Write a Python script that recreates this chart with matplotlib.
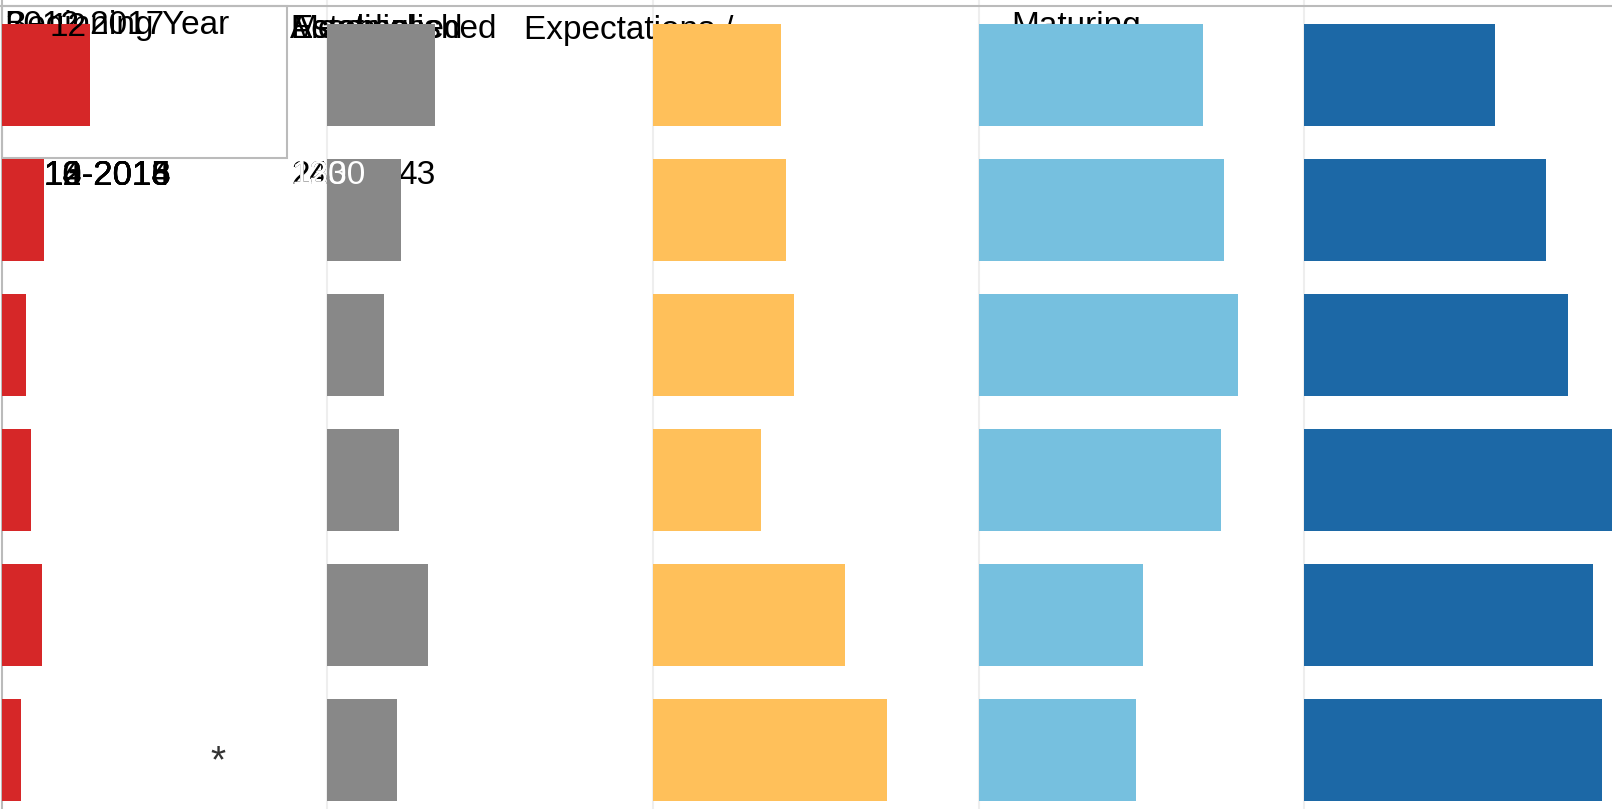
import numpy as np
import matplotlib
matplotlib.use("Agg")
import matplotlib.pyplot as plt
from matplotlib.patches import Rectangle
from matplotlib.lines import Line2D

plt.rcParams['font.family'] = ['Liberation Sans', 'DejaVu Sans']

W, H = 1612, 809

# share of teachers per rating level, one value per cohort row (percent)
rows = ["2012-2017", "2013-2018", "2014-2019", "2015-2020", "2016-2021", "2017-2022"]
beginning = [12, 5.7, 3.2, 3.9, 5.4, 2.6]
emerging = [14.6, 10.0, 7.7, 9.8, 13.7, 9.5]
expectations = [17.4, 18.0, 19.1, 14.6, 26.1, 31.7]
maturing = [30.4, 33.2, 35.1, 32.9, 22.2, 21.3]
accomplished = [25.9, 32.9, 35.8, 43, 39.2, 40.4]

series = [beginning, emerging, expectations, maturing, accomplished]
colors = ["#d62728", "#888888", "#ffc05a", "#76c0df", "#1c68a6"]

# stacked labels that ended up on top of each other
head_left = ["Beginning Year", "2012-2017"]
head_mid = ["Accomplished", "Established", "Meeting"]
row_labels = ["10-2013", "12-2014", "13-2015", "14-2016", "16-2018"]
counts_black = ["1309", "2209", "1429"]
counts_white = ["1330", "120"]


def fx(x):
    return x / W


def fy(y):
    return 1 - y / H


fig = plt.figure(figsize=(W / 100, H / 100), dpi=100)

px_per_pct = 7.37
lefts = [2, 327, 653, 979, 1304]
rights = [327, 653, 979, 1304, 1612]
row0, pitch, bar_h = 74.6, 135.0, 102.0

for k, (vals, col) in enumerate(zip(series, colors)):
    ax = fig.add_axes([fx(lefts[k]), 0, fx(rights[k] - lefts[k]), 1])
    ax.set_facecolor("none")
    ax.barh(np.arange(len(rows)), vals, height=bar_h / pitch, color=col, zorder=2)
    ax.set_xlim(0, (rights[k] - lefts[k]) / px_per_pct)
    ax.set_ylim((H - row0) / pitch, -row0 / pitch)
    for s in ax.spines.values():
        s.set_visible(False)
    ax.set_xticks([])
    ax.set_yticks([])

# frame lines
for x in lefts[1:]:
    fig.add_artist(Line2D([fx(x), fx(x)], [0, 1], color="#eeeeee", lw=1.5, zorder=-2))
fig.add_artist(Line2D([fx(2), fx(2)], [0, 1], color="#bbbbbb", lw=1.5, zorder=-2))
fig.add_artist(Line2D([0, 1], [fy(6), fy(6)], color="#bbbbbb", lw=1.5, zorder=-2))
fig.add_artist(Rectangle((fx(2), fy(158)), fx(285), fy(6) - fy(158), fill=False,
                         edgecolor="#bbbbbb", lw=1.5, zorder=-2))

fs = 24
for t in head_left:
    fig.text(fx(5), fy(34), t, fontsize=fs, color="black", zorder=-1)
fig.text(fx(49), fy(36), "12", fontsize=fs, color="black", zorder=5)
for t in head_mid:
    fig.text(fx(290), fy(38), t, fontsize=fs, color="black", zorder=-1)
fig.text(fx(524), fy(39), "Expectations /", fontsize=fs, color="black", zorder=-1)
fig.text(fx(1011), fy(35), "Maturing", fontsize=fs, color="black", zorder=-1)

for t in row_labels:
    fig.text(fx(43), fy(185), t, fontsize=fs + 1, color="black", zorder=-1)
for t in counts_black:
    fig.text(fx(291), fy(184), t, fontsize=fs, color="black", zorder=-1)
for t in counts_white:
    fig.text(fx(291), fy(184), t, fontsize=fs, color="white", zorder=5)
fig.text(fx(398), fy(184), "43", fontsize=fs, color="black", zorder=-1)

fig.text(fx(218), fy(772), "*", fontsize=28, color="#333333", ha="center", zorder=3)

fig.savefig("out.png", dpi=100)
